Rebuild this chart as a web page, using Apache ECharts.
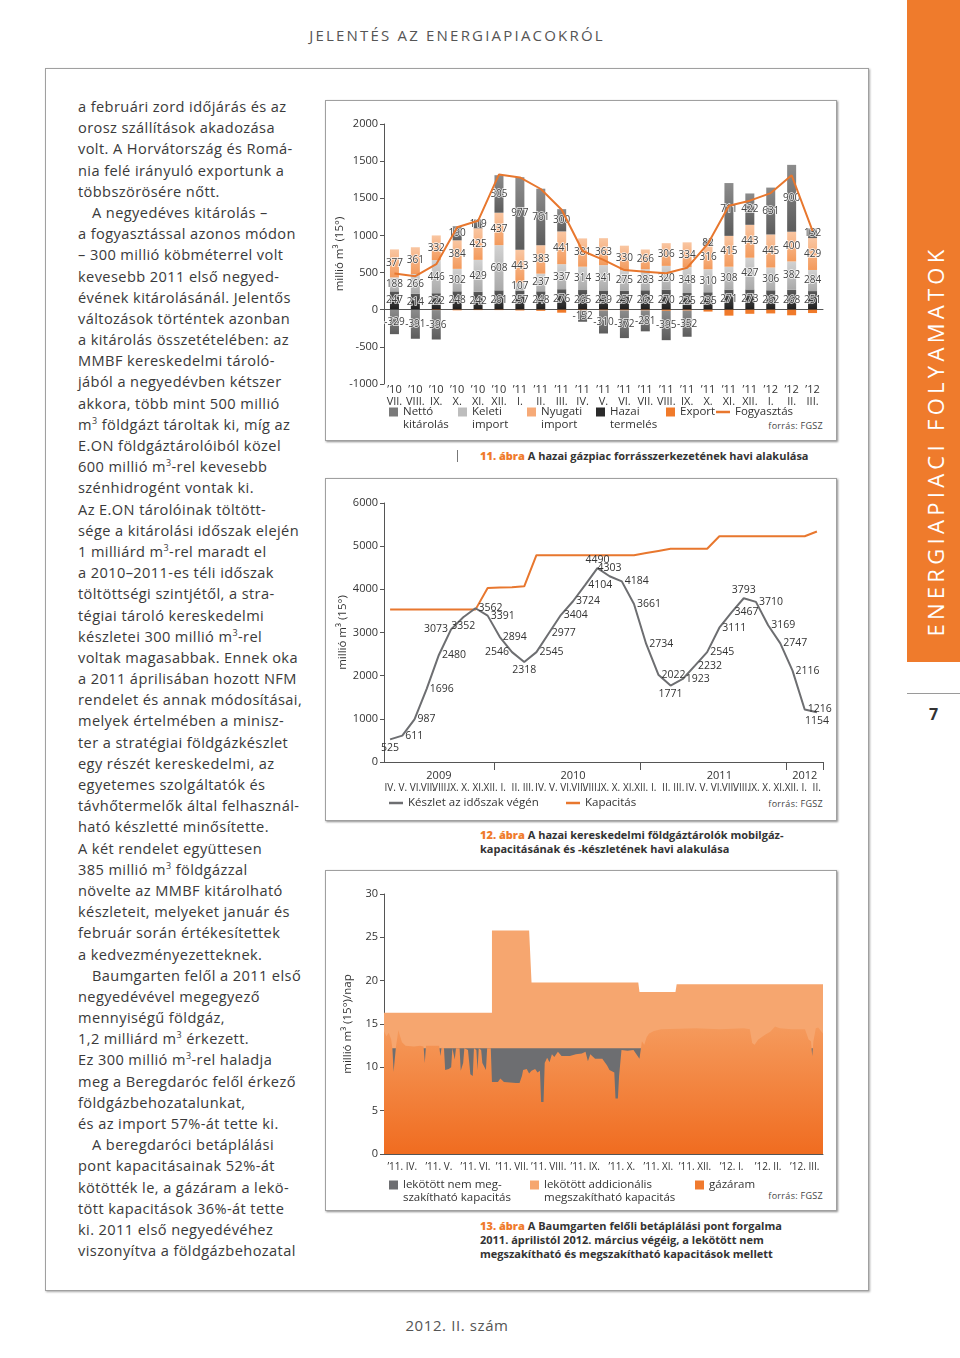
<!DOCTYPE html>
<html><head><meta charset="utf-8">
<script src="https://cdn.jsdelivr.net/npm/echarts@6/dist/echarts.min.js"></script>
<style>
html,body{margin:0;padding:0;background:#fff;}
body{width:960px;height:1358px;position:relative;overflow:hidden;font-family:"Open Sans",sans-serif;color:#333;}
.abs{position:absolute;}
.frame{position:absolute;border:1px solid #a0a0a0;box-shadow:1px 1px 2px rgba(0,0,0,0.35);background:#fff;}
.col div{height:21.2px;line-height:21.2px;white-space:nowrap;}
.col{position:absolute;left:78px;top:96px;font-size:14.6px;letter-spacing:0.4px;color:#3a3a3a;}
.ind{padding-left:14px;}
.cap{position:absolute;left:480px;font-size:11px;font-weight:700;color:#333;line-height:14px;white-space:nowrap;}
.cap b{color:#ef7b2c;}
.src{position:absolute;font-size:9px;color:#444;right:137px;letter-spacing:0.3px;}
sup{font-size:9px;line-height:0;}
</style>
</head>
<body>
<div class="abs" style="left:0;width:914px;top:25px;text-align:center;font-size:15px;letter-spacing:2.2px;color:#555;">JELENTÉS AZ ENERGIAPIACOKRÓL</div>
<div class="frame" style="left:45px;top:68px;width:822px;height:1221px;"></div>
<div class="frame" style="left:325px;top:100px;width:510px;height:339px;box-shadow:1px 1px 2px rgba(0,0,0,0.45);"></div>
<div class="frame" style="left:325px;top:478px;width:510px;height:341px;box-shadow:1px 1px 2px rgba(0,0,0,0.45);"></div>
<div class="frame" style="left:325px;top:870px;width:510px;height:339px;box-shadow:1px 1px 2px rgba(0,0,0,0.45);"></div>

<div class="col">
<div>a februári zord időjárás és az</div>
<div>orosz szállítások akadozása</div>
<div>volt. A Horvátország és Romá-</div>
<div>nia felé irányuló exportunk a</div>
<div>többszörösére nőtt.</div>
<div class="ind">A negyedéves kitárolás –</div>
<div>a fogyasztással azonos módon</div>
<div>– 300 millió köbméterrel volt</div>
<div>kevesebb 2011 első negyed-</div>
<div>évének kitárolásánál. Jelentős</div>
<div>változások történtek azonban</div>
<div>a kitárolás összetételében: az</div>
<div>MMBF kereskedelmi tároló-</div>
<div>jából a negyedévben kétszer</div>
<div>akkora, több mint 500 millió</div>
<div>m<sup>3</sup> földgázt tároltak ki, míg az</div>
<div>E.ON földgáztárolóiból közel</div>
<div>600 millió m<sup>3</sup>-rel kevesebb</div>
<div>szénhidrogént vontak ki.</div>
<div>Az E.ON tárolóinak töltött-</div>
<div>sége a kitárolási időszak elején</div>
<div>1 milliárd m<sup>3</sup>-rel maradt el</div>
<div>a 2010–2011-es téli időszak</div>
<div>töltöttségi szintjétől, a stra-</div>
<div>tégiai tároló kereskedelmi</div>
<div>készletei 300 millió m<sup>3</sup>-rel</div>
<div>voltak magasabbak. Ennek oka</div>
<div>a 2011 áprilisában hozott NFM</div>
<div>rendelet és annak módosításai,</div>
<div>melyek értelmében a minisz-</div>
<div>ter a stratégiai földgázkészlet</div>
<div>egy részét kereskedelmi, az</div>
<div>egyetemes szolgáltatók és</div>
<div>távhőtermelők által felhasznál-</div>
<div>ható készletté minősítette.</div>
<div>A két rendelet együttesen</div>
<div>385 millió m<sup>3</sup> földgázzal</div>
<div>növelte az MMBF kitárolható</div>
<div>készleteit, melyeket január és</div>
<div>február során értékesítettek</div>
<div>a kedvezményezetteknek.</div>
<div class="ind">Baumgarten felől a 2011 első</div>
<div>negyedévével megegyező</div>
<div>mennyiségű földgáz,</div>
<div>1,2 milliárd m<sup>3</sup> érkezett.</div>
<div>Ez 300 millió m<sup>3</sup>-rel haladja</div>
<div>meg a Beregdaróc felől érkező</div>
<div>földgázbehozatalunkat,</div>
<div>és az import 57%-át tette ki.</div>
<div class="ind">A beregdaróci betáplálási</div>
<div>pont kapacitásainak 52%-át</div>
<div>kötötték le, a gázáram a lekö-</div>
<div>tött kapacitások 36%-át tette</div>
<div>ki. 2011 első negyedévéhez</div>
<div>viszonyítva a földgázbehozatal</div>
</div>

<div class="abs" style="left:457px;top:450px;width:1px;height:12px;background:#777;"></div>
<div class="cap" style="top:449px;"><b>11. ábra</b> A hazai gázpiac forrásszerkezetének havi alakulása</div>
<div class="cap" style="top:828px;"><b>12. ábra</b> A hazai kereskedelmi földgáztárolók mobilgáz-<br>kapacitásának és -készletének havi alakulása</div>
<div class="cap" style="top:1219px;"><b>13. ábra</b> A Baumgarten felőli betáplálási pont forgalma<br>2011. áprilistól 2012. március végéig, a lekötött nem<br>megszakítható és megszakítható kapacitások mellett</div>

<div class="src" style="top:419px;">forrás: FGSZ</div>
<div class="src" style="top:797px;">forrás: FGSZ</div>
<div class="src" style="top:1189px;">forrás: FGSZ</div>

<div class="abs" style="left:907px;top:0;width:53px;height:662px;background:#ef7b2c;"></div>
<div class="abs" style="left:715px;top:428px;width:440px;height:26px;line-height:26px;transform:rotate(-90deg);transform-origin:220px 13px;color:#fff;font-size:22px;letter-spacing:4.3px;text-align:center;white-space:nowrap;">ENERGIAPIACI FOLYAMATOK</div>
<div class="abs" style="left:907px;top:693px;width:53px;height:1px;background:#9a9a9a;"></div>
<div class="abs" style="left:907px;top:703px;width:53px;text-align:center;font-size:16px;font-weight:700;color:#333;">7</div>
<div class="abs" style="left:0;width:914px;top:1315px;text-align:center;font-size:15px;letter-spacing:0.6px;color:#555;">2012. II. szám</div>

<div id="chart" style="position:absolute;left:0;top:0;width:960px;height:1358px;z-index:5;"></div>

<script>
// ---------- Chart 1 data ----------
const months1 = ['’10\nVII.','’10\nVIII.','’10\nIX.','’10\nX.','’10\nXI.','’10\nXII.','’11\nI.','’11\nII.','’11\nIII.','’11\nIV.','’11\nV.','’11\nVI.','’11\nVII.','’11\nVIII.','’11\nIX.','’11\nX.','’11\nXI.','’11\nXII.','’12\nI.','’12\nII.','’12\nIII.'];
const hazaiTermeles = [247,214,222,248,242,261,257,248,276,265,259,257,262,270,225,235,271,273,262,268,251];
const keletiImport = [188,266,446,302,429,608,107,237,337,314,341,275,283,320,348,310,308,427,306,382,284];
const nyugatiImport = [377,361,332,384,425,437,443,383,441,381,363,330,266,306,334,316,415,443,445,400,429];
const nettoKitarolas = [-329,-391,-396,190,119,505,977,761,300,-152,-310,-372,-281,-395,-352,82,711,422,631,900,132];
const exportVals = [0,0,-5,-8,-5,-5,-10,-15,-40,-10,-10,-10,-10,-15,-12,-25,-80,-55,-50,-75,-45];
const fogyasztas = [487,452,613,1110,1197,1821,1781,1625,1345,790,670,533,510,492,565,890,1400,1468,1570,1810,1060];
const yTickLabels1 = ['-1000','-500','0','500','1000','1500','1500','2000'];

// ---------- Chart 2 data ----------
const months2 = ['IV.','V.','VI.','VII.','VIII.','IX.','X.','XI.','XII.','I.','II.','III.','IV.','V.','VI.','VII.','VIII.','IX.','X.','XI.','XII.','I.','II.','III.','IV.','V.','VI.','VII.','VIII.','IX.','X.','XI.','XII.','I.','II.','III.'];
const monthLabels2 = ['IV.','V.','VI.','VII.','VIII.','IX.','X.','XI.','XII.','I.','II.','III.','IV.','V.','VI.','VII.','VIII.','IX.','X.','XI.','XII.','I.','II.','III.','IV.','V.','VI.','VII.','VIII.','IX.','X.','XI.','XII.','I.','II.'];
const yearLabels2 = ['','','','','2009','','','','','','','','','','','2010','','','','','','','','','','','','2011','','','','','','','2012',''];
const keszlet = [525,611,987,1696,2480,3073,3352,3562,3391,2894,2546,2318,2545,2977,3404,3724,4104,4490,4303,4184,3661,2734,2022,1771,1923,2232,2545,3111,3467,3793,3710,3169,2747,2116,1216,1154];
const kapacitas = [3530,3530,3530,3530,3530,3530,3530,3530,4030,4040,4050,4070,4790,4790,4790,4790,4790,4790,4790,4790,4790,4840,4890,4940,4940,4940,4940,5230,5230,5230,5230,5230,5230,5230,5230,5340];
const keszletLabelPos = ['bottom','right','right','right','right','left','bottom','right','right','right','left','bottom','right','right','right','right','right','top','top','right','right','right','right','bottom','right','right','right','right','right','top','right','right','right','right','right','bottom'];

// ---------- Chart 3 data (day index from 2011-04-01, million m3/day) ----------
const months3 = ['’11. IV.','’11. V.','’11. VI.','’11. VII.','’11. VIII.','’11. IX.','’11. X.','’11. XI.','’11. XII.','’12. I.','’12. II.','’12. III.'];
const kapNemMegszakithato = [[0,12.2],[366,12.2]];
const kapOsszes = [[0,16.3],[90,16.3],[90,25.8],[121,25.8],[123,19.8],[212,19.8],[213,18.7],[243,18.7],[244,19.6],[366,19.6]];
const gazaram = [[0,14.2],[2,13.6],[4,14.0],[6,13.2],[7,12.2],[8,9.5],[9,9.5],[10,12.4],[12,14.3],[13,13.8],[15,12.9],[18,12.5],[25,12.4],[30,12.5],[33,12.4],[34,10.5],[35,12.5],[46,12.5],[47,11.3],[48,12.3],[50,12.2],[51,9.7],[54,9.8],[56,10.0],[57,12.2],[58,12.0],[59,10.9],[60,12.2],[63,12.2],[64,9.6],[66,10.5],[67,12.2],[70,12.0],[72,9.2],[74,9.0],[75,12.2],[77,12.0],[78,9.7],[79,12.2],[81,12.0],[82,10.5],[85,9.7],[86,12.2],[89,12.2],[90,8.3],[95,8.3],[97,8.7],[100,8.3],[110,8.2],[113,8.2],[115,9.0],[116,9.7],[119,9.8],[121,9.3],[123,9.6],[126,9.8],[128,9.4],[130,9.6],[131,6.0],[133,6.0],[134,10.5],[136,11.1],[138,10.6],[140,11.5],[142,11.2],[145,11.8],[148,11.3],[155,11.3],[160,11.5],[165,11.6],[168,11.8],[170,10.7],[172,11.5],[176,11.0],[182,11.0],[186,10.2],[188,9.7],[192,9.4],[193,6.4],[195,6.4],[196,9.0],[198,12.0],[203,11.9],[208,12.0],[211,11.4],[213,11.0],[215,13.0],[217,12.6],[219,13.5],[221,13.9],[225,14.2],[231,14.4],[260,14.5],[280,14.4],[300,14.5],[305,14.4],[307,12.8],[309,12.6],[312,13.2],[315,13.5],[318,13.8],[322,14.1],[326,14.7],[330,14.5],[340,14.4],[351,14.4],[354,13.2],[356,13.0],[357,11.3],[358,13.0],[360,14.5],[362,14.6],[366,13.9]];

// ---------- styling helpers ----------
const FONT = '"Open Sans", sans-serif';
const AX = '#555';
function grad(top, bottom){ return new echarts.graphic.LinearGradient(0,0,0,1,[{offset:0,color:top},{offset:1,color:bottom}]); }
const legendNames = {
  'Nettó kitárolás':'Nettó\nkitárolás','Keleti import':'Keleti\nimport','Nyugati import':'Nyugati\nimport',
  'Hazai termelés':'Hazai\ntermelés','Export':'Export','Fogyasztás':'Fogyasztás',
  'Készlet az időszak végén':'Készlet az időszak végén','Kapacitás':'Kapacitás',
  'lekötött nem megszakítható kapacitás':'lekötött nem meg-\nszakítható kapacitás',
  'lekötött addicionális megszakítható kapacitás':'lekötött addicionális\nmegszakítható kapacitás',
  'gázáram':'gázáram'
};
function leg(name, left, cy, color, isLine){
  const two = legendNames[name].indexOf('\n') >= 0;
  const h = two ? 39 : 13;
  return {
    data:[{name:name, icon:'rect', itemStyle:{color:color}}],
    left:left, top: cy - h/2, padding:0, selectedMode:false,
    itemWidth: isLine ? 14 : 9, itemHeight: isLine ? 2.5 : 9, itemGap:0,
    formatter: n => (two ? ' \n' : '') + legendNames[n],
    textStyle:{fontFamily:FONT,fontSize:11.5,color:'#333',lineHeight:13}
  };
}
const barLabel = {show:true, position:'inside', fontFamily:FONT, fontSize:10, color:'#444',
  textBorderColor:'rgba(255,255,255,0.85)', textBorderWidth:1.5,
  formatter: p => (p.value === 0 ? '' : String(p.value))};

const chart = echarts.init(document.getElementById('chart'), null, {renderer:'canvas', width:960, height:1358});
const option = {
  animation:false,
  textStyle:{fontFamily:FONT},
  grid:[
    {left:384, top:124, width:439, height:260},
    {left:384, top:503, width:439, height:259},
    {left:384, top:894, width:439, height:260}
  ],
  legend:[
    leg('Nettó kitárolás', 389, 412, '#7a7a7a'),
    leg('Keleti import', 458, 412, '#bdbdbd'),
    leg('Nyugati import', 527, 412, '#f6aa78'),
    leg('Hazai termelés', 596, 412, '#2a2a2a'),
    leg('Export', 666, 412, '#f07a2a'),
    leg('Fogyasztás', 716, 412, '#e8772e', true),
    leg('Készlet az időszak végén', 389, 803, '#6d6e71', true),
    leg('Kapacitás', 566, 803, '#e8772e', true),
    leg('lekötött nem megszakítható kapacitás', 389, 1185, '#6d6e71'),
    leg('lekötött addicionális megszakítható kapacitás', 530, 1185, '#f6a66f'),
    leg('gázáram', 695, 1185, '#f07a2e')
  ],
  xAxis:[
    {gridIndex:0, type:'category', data:months1, axisLine:{onZero:true, lineStyle:{color:AX}},
     axisTick:{length:4, lineStyle:{color:AX}}, axisLabel:{show:false}},
    {gridIndex:0, type:'category', data:months1, position:'bottom', axisLine:{show:false, onZero:false}, axisTick:{show:false},
     axisLabel:{interval:0, margin:0, fontSize:11, color:'#333', lineHeight:12, fontFamily:FONT}},
    {gridIndex:1, type:'category', data:months2, axisLine:{lineStyle:{color:AX}},
     axisTick:{length:4, lineStyle:{color:AX}}, axisLabel:{show:false}},
    {gridIndex:1, type:'category', data:monthLabels2, position:'bottom', axisLine:{show:false}, axisTick:{show:false},
     axisLabel:{interval:0, margin:21, fontSize:10, color:'#333', fontFamily:FONT, hideOverlap:false}},
    {gridIndex:1, type:'category', data:yearLabels2, position:'bottom', axisLine:{show:false},
     axisTick:{show:true, length:8, interval:(i)=> i===9||i===21||i===33, lineStyle:{color:AX}},
     axisLabel:{interval:0, margin:8, fontSize:11, color:'#333', fontFamily:FONT}},
    {gridIndex:2, type:'category', data:months3, axisLine:{lineStyle:{color:AX}},
     axisTick:{length:5, lineStyle:{color:AX}}, axisLabel:{interval:0, margin:8, fontSize:10, color:'#333', fontFamily:FONT}},
    {gridIndex:2, type:'value', min:0, max:366, show:false}
  ],
  yAxis:[
    {gridIndex:0, type:'value', min:-1000, max:2500, interval:500, splitLine:{show:false},
     axisLine:{show:true, lineStyle:{color:AX}}, axisTick:{show:true, length:4, lineStyle:{color:AX}},
     axisLabel:{fontSize:11, color:'#333', margin:6, formatter:(v)=> yTickLabels1[Math.round((v+1000)/500)]},
     name:'millió m³ (15°)', nameLocation:'middle', nameGap:32, nameTextStyle:{fontSize:11.5, color:'#333'}},
    {gridIndex:1, type:'value', min:0, max:6000, interval:1000, splitLine:{show:false},
     axisLine:{show:true, lineStyle:{color:AX}}, axisTick:{show:true, length:4, lineStyle:{color:AX}},
     axisLabel:{fontSize:11, color:'#333', margin:6, formatter:(v)=> String(v)},
     name:'millió m³ (15°)', nameLocation:'middle', nameGap:32, nameTextStyle:{fontSize:11.5, color:'#333'}},
    {gridIndex:2, type:'value', min:0, max:30, interval:5, splitLine:{show:false},
     axisLine:{show:true, lineStyle:{color:AX}}, axisTick:{show:true, length:4, lineStyle:{color:AX}},
     axisLabel:{fontSize:11, color:'#333', margin:6},
     name:'millió m³ (15°)/nap', nameLocation:'middle', nameGap:30, nameTextStyle:{fontSize:11.5, color:'#333'}}
  ],
  series:[
    {name:'Hazai termelés', type:'bar', stack:'s1', xAxisIndex:0, yAxisIndex:0, barWidth:9, data:hazaiTermeles,
     itemStyle:{color:grad('#5a5a5a','#1e1e1e')}, label:barLabel},
    {name:'Keleti import', type:'bar', stack:'s1', xAxisIndex:0, yAxisIndex:0, barWidth:9, data:keletiImport,
     itemStyle:{color:grad('#d2d2d2','#aaaaaa')}, label:barLabel},
    {name:'Nyugati import', type:'bar', stack:'s1', xAxisIndex:0, yAxisIndex:0, barWidth:9, data:nyugatiImport,
     itemStyle:{color:grad('#f9c6a2','#f39a5c')}, label:barLabel},
    {name:'Export', type:'bar', stack:'s1', xAxisIndex:0, yAxisIndex:0, barWidth:9, data:exportVals,
     itemStyle:{color:'#f07a2a'}},
    {name:'Nettó kitárolás', type:'bar', stack:'s1', xAxisIndex:0, yAxisIndex:0, barWidth:9, data:nettoKitarolas,
     itemStyle:{color:grad('#8c8c8c','#5c5c5c')}, label:barLabel},
    {name:'Fogyasztás', type:'line', xAxisIndex:0, yAxisIndex:0, data:fogyasztas, symbol:'none',
     lineStyle:{color:'#e8772e', width:2}, itemStyle:{color:'#e8772e'}, z:5},

    {name:'Kapacitás', type:'line', xAxisIndex:2, yAxisIndex:1, data:kapacitas, symbol:'none',
     lineStyle:{color:'#e8772e', width:2}, itemStyle:{color:'#e8772e'}},
    {name:'Készlet az időszak végén', type:'line', xAxisIndex:2, yAxisIndex:1, symbol:'circle', symbolSize:0.01, showSymbol:true,
     data:keszlet.map((v,i)=>({value:v, label:{position:keszletLabelPos[i]}})),
     lineStyle:{color:'#6d6e71', width:2}, itemStyle:{color:'#6d6e71'},
     label:{show:true, fontSize:10.5, color:'#333', distance:3, fontFamily:FONT}},

    {name:'lekötött addicionális megszakítható kapacitás', type:'line', xAxisIndex:6, yAxisIndex:2, data:kapOsszes,
     symbol:'none', lineStyle:{width:0}, itemStyle:{color:'#f6a66f'}, areaStyle:{color:'#f6a66f', opacity:1}},
    {name:'lekötött nem megszakítható kapacitás', type:'line', xAxisIndex:6, yAxisIndex:2, data:kapNemMegszakithato,
     symbol:'none', lineStyle:{width:0}, itemStyle:{color:'#6d6e71'}, areaStyle:{color:'#6d6e71', opacity:1}},
    {name:'gázáram', type:'line', xAxisIndex:6, yAxisIndex:2, data:gazaram,
     symbol:'none', lineStyle:{width:0}, itemStyle:{color:'#f07a2e'}, areaStyle:{color:grad('#f59a5c','#f06c20'), opacity:1}}
  ]
};
chart.setOption(option);
</script>
</body></html>
